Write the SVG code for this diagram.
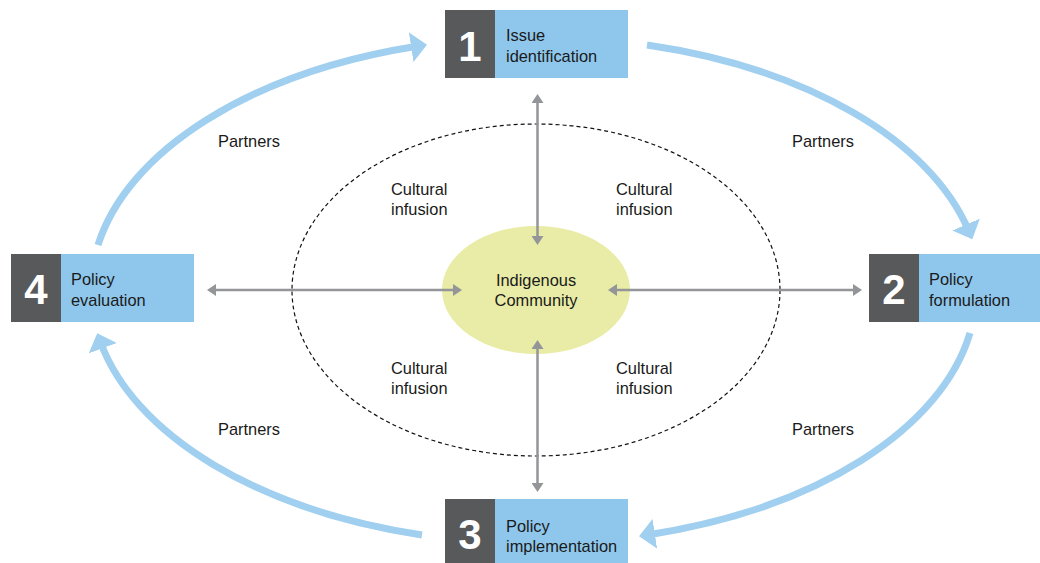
<svg xmlns="http://www.w3.org/2000/svg" width="1040" height="563" viewBox="0 0 1040 563">
<defs>
<style>
.num{font-family:"Liberation Sans",Arial,sans-serif;font-weight:bold;font-size:42px;fill:#ffffff;text-anchor:middle}
.lbl{font-family:"Liberation Sans",Arial,sans-serif;font-size:16.4px;fill:#1a1a1a}
.mid{text-anchor:middle}
.dark{fill:#58595b}
.light{fill:#8fc7ec}
.arc{fill:none;stroke:#a0cff0;stroke-width:7;marker-end:url(#bluehead)}
.grey{stroke:#939598;stroke-width:2.5;marker-start:url(#greyhead);marker-end:url(#greyhead)}
</style>
<marker id="bluehead" markerUnits="userSpaceOnUse" markerWidth="16" markerHeight="30" refX="6" refY="15" orient="auto" viewBox="0 0 16 30">
<path d="M0,0 L16,15 L0,30 Z" fill="#a0cff0"/>
</marker>
<marker id="greyhead" markerUnits="userSpaceOnUse" markerWidth="9" markerHeight="12" refX="3" refY="6" orient="auto-start-reverse" viewBox="0 0 9 12">
<path d="M0,0 L9,6 L0,12 Z" fill="#939598"/>
</marker>
</defs>
<rect width="1040" height="563" fill="#ffffff"/>

<g id="outer-ellipse">
<ellipse cx="536" cy="290" rx="244" ry="166" fill="none" stroke="#111" stroke-width="1.2" stroke-dasharray="4 3"/>
</g>

<g id="center">
<ellipse cx="536" cy="290" rx="94" ry="64" fill="#e8eca6"/>
<text class="lbl mid" x="536" y="286">Indigenous</text>
<text class="lbl mid" x="536" y="306">Community</text>
</g>

<g id="connectors">
<path class="arc" d="M98,245 A445,253 0 0,1 417.1,46.2"/>
<path class="arc" d="M647,45 A445,253 0 0,1 968.4,230.1"/>
<path class="arc" d="M970,333 A445,253 0 0,1 648.9,534.7"/>
<path class="arc" d="M422,535 A445,253 0 0,1 100.7,342.6"/>
<line class="grey" x1="537.5" y1="100" x2="537.5" y2="239"/>
<line class="grey" x1="537.5" y1="346" x2="537.5" y2="486"/>
<line class="grey" x1="213" y1="290" x2="456" y2="290"/>
<line class="grey" x1="614" y1="290" x2="856" y2="290"/>
</g>

<g id="node1">
<rect class="dark" x="445" y="10" width="50" height="68"/>
<rect class="light" x="495" y="10" width="133" height="68"/>
<text class="num" x="470" y="61">1</text>
<text class="lbl" x="506" y="41">Issue</text>
<text class="lbl" x="506" y="62">identification</text>
</g>

<g id="node2">
<rect class="dark" x="869" y="254" width="50" height="68"/>
<rect class="light" x="919" y="254" width="121" height="68"/>
<text class="num" x="894" y="304">2</text>
<text class="lbl" x="929" y="285">Policy</text>
<text class="lbl" x="929" y="306">formulation</text>
</g>

<g id="node3">
<rect class="dark" x="445" y="499" width="50" height="68"/>
<rect class="light" x="495" y="499" width="133" height="68"/>
<text class="num" x="470" y="549">3</text>
<text class="lbl" x="506" y="532">Policy</text>
<text class="lbl" x="506" y="552">implementation</text>
</g>

<g id="node4">
<rect class="dark" x="11" y="254" width="50" height="68"/>
<rect class="light" x="61" y="254" width="133" height="68"/>
<text class="num" x="36" y="304">4</text>
<text class="lbl" x="71" y="285">Policy</text>
<text class="lbl" x="71" y="306">evaluation</text>
</g>

<g id="labels">
<text class="lbl" x="218" y="147">Partners</text>
<text class="lbl" x="792" y="147">Partners</text>
<text class="lbl" x="218" y="435">Partners</text>
<text class="lbl" x="792" y="435">Partners</text>
<text class="lbl" x="391" y="195">Cultural</text>
<text class="lbl" x="391" y="215">infusion</text>
<text class="lbl" x="616" y="195">Cultural</text>
<text class="lbl" x="616" y="215">infusion</text>
<text class="lbl" x="391" y="374">Cultural</text>
<text class="lbl" x="391" y="394">infusion</text>
<text class="lbl" x="616" y="374">Cultural</text>
<text class="lbl" x="616" y="394">infusion</text>
</g>
</svg>
